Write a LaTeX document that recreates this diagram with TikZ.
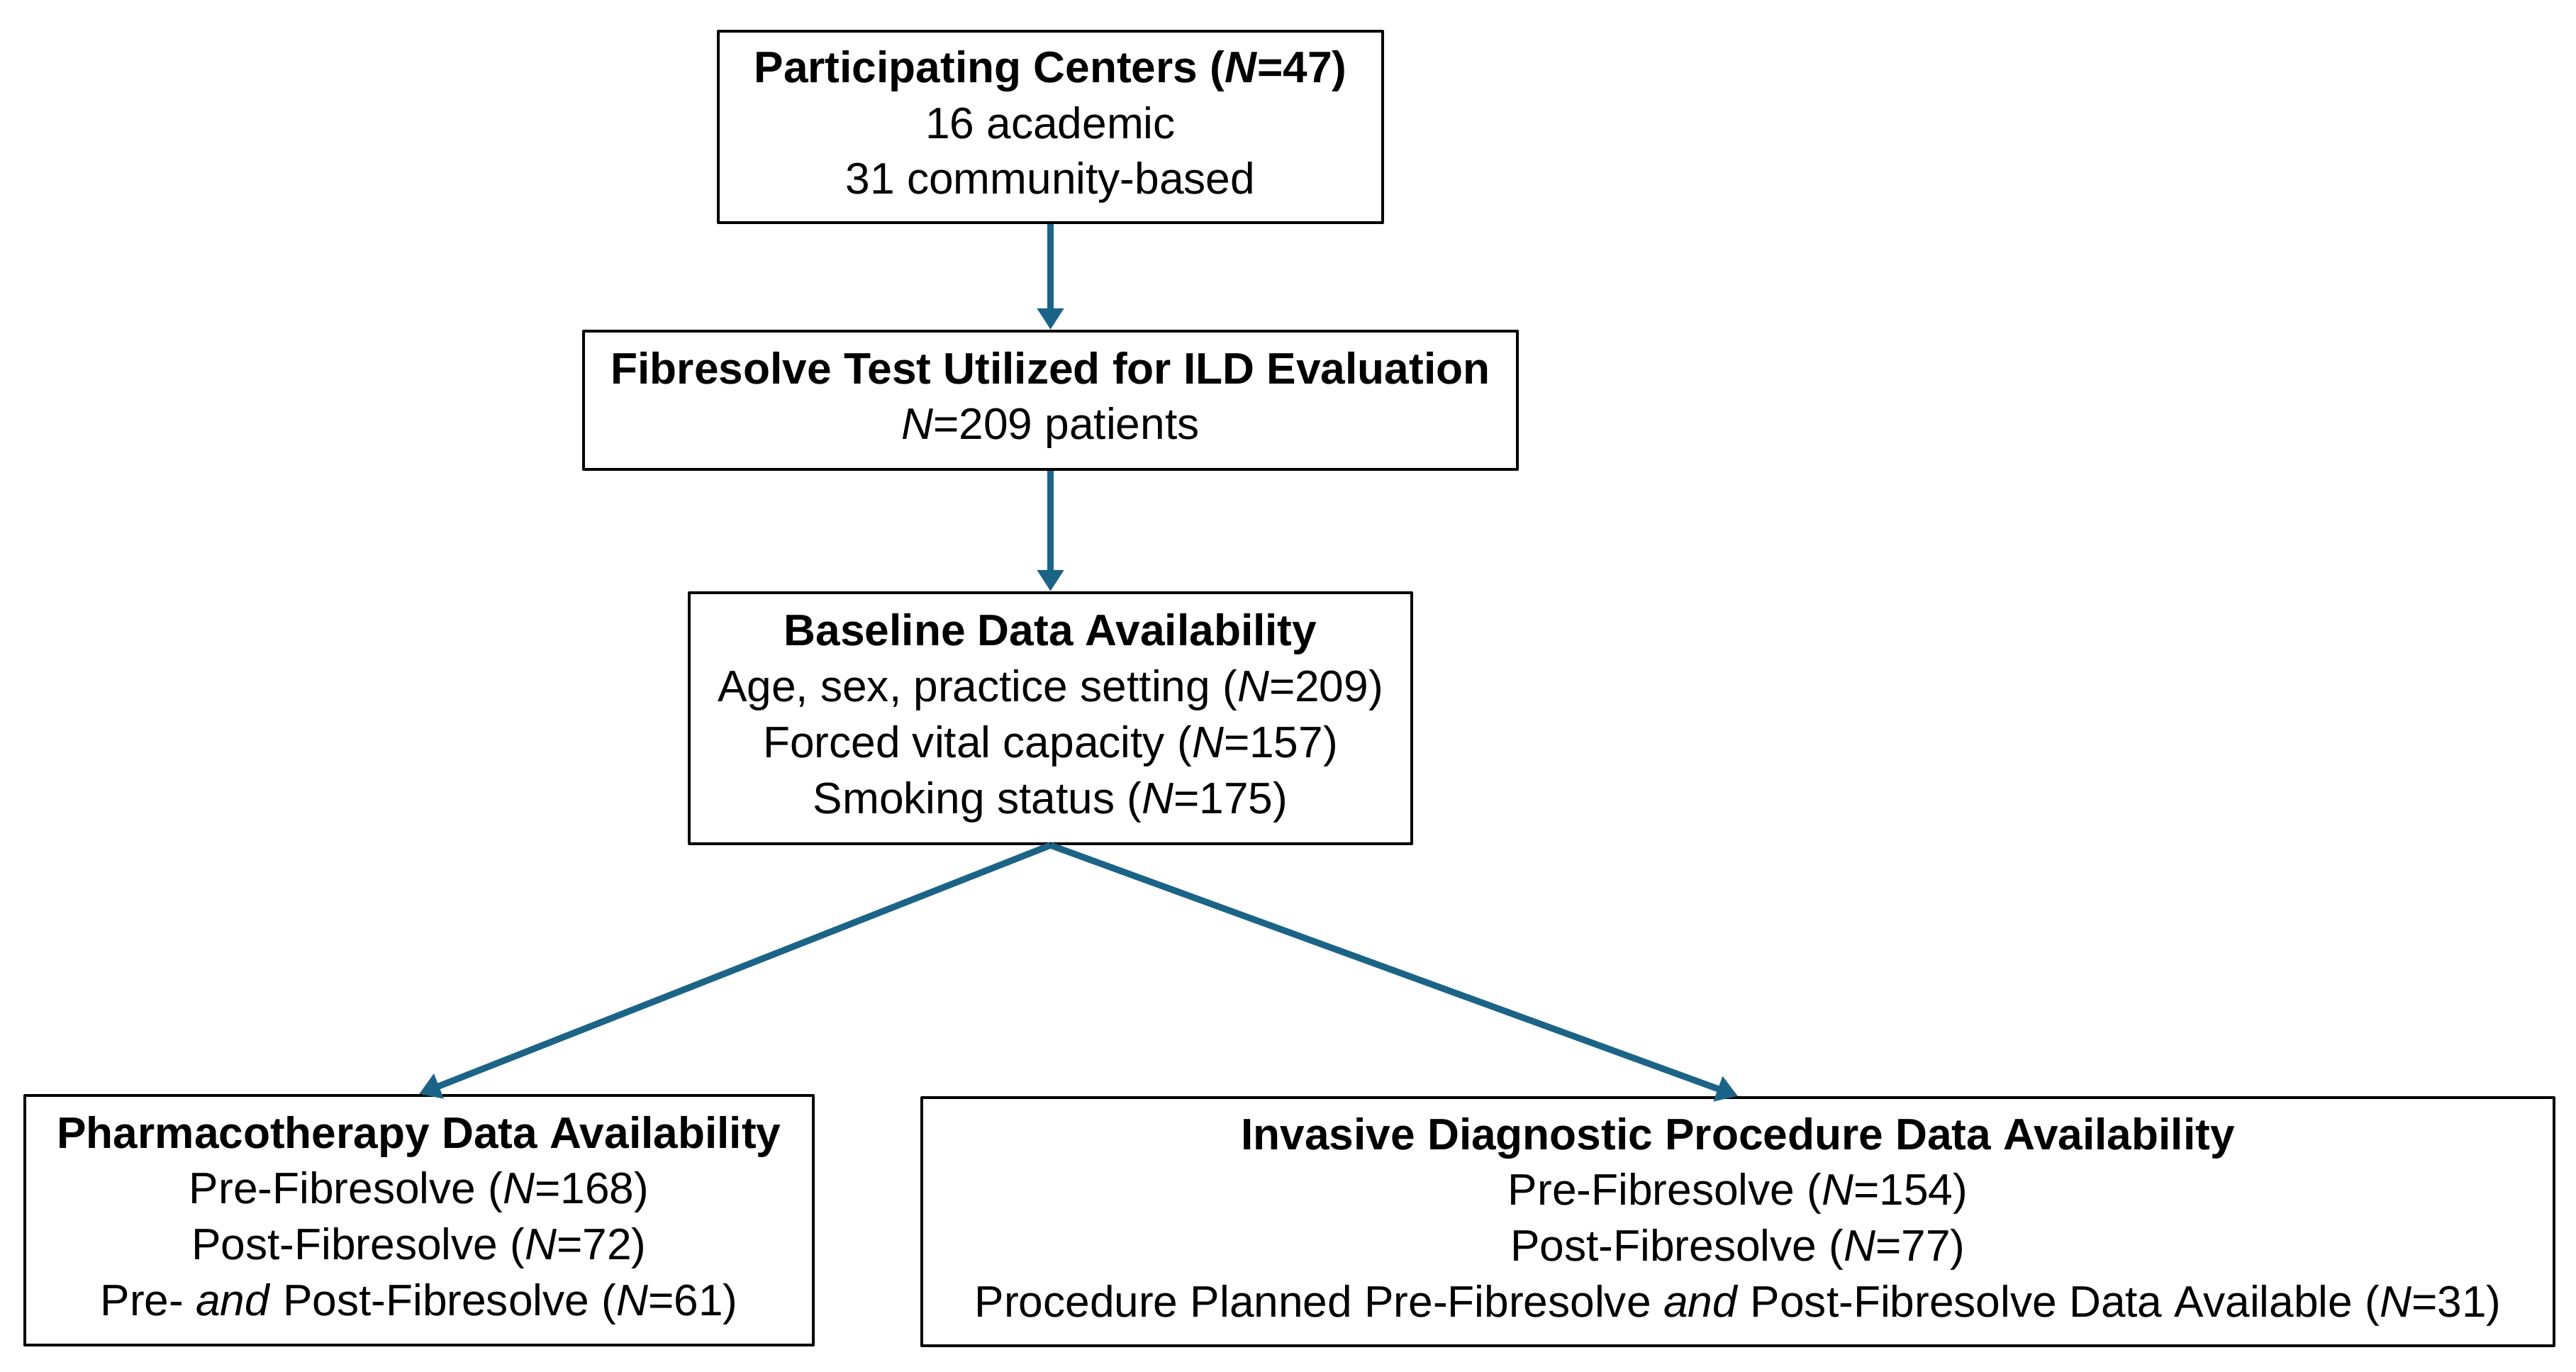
\documentclass[tikz,border=0pt]{standalone}
\usepackage{fontspec}
\setmainfont{Liberation Sans}
\usetikzlibrary{arrows.meta}
\definecolor{arrowblue}{HTML}{1C6487}
\begin{document}
\begin{tikzpicture}[font=\fontsize{17.7}{22.4}\selectfont, line join=round, >={Triangle[length=0.3cm,width=0.36cm]},
		box/.style={draw, line width=1.2pt, align=center, inner sep=0pt},
		flow/.style={->, draw=arrowblue, line width=2.6pt}]
			\useasboundingbox (0,0) rectangle (36.33,-19.35);
			\node[box, minimum width=9.37cm, minimum height=2.70cm] (centers) at (14.815,-1.79)
				{\textbf{Participating Centers (\textit{N}=47)}\\16 academic\\31 community-based};
			\node[box, minimum width=13.17cm, minimum height=1.95cm] (test) at (14.815,-5.645)
				{\textbf{Fibresolve Test Utilized for ILD Evaluation}\\\textit{N}=209 patients};
			\node[box, minimum width=10.19cm, minimum height=3.54cm] (baseline) at (14.815,-10.13)
				{\textbf{Baseline Data Availability}\\Age, sex, practice setting (\textit{N}=209)\\Forced vital capacity (\textit{N}=157)\\Smoking status (\textit{N}=175)};
			\node[box, minimum width=11.12cm, minimum height=3.52cm] (pharma) at (5.91,-17.21)
				{\textbf{Pharmacotherapy Data Availability}\\Pre-Fibresolve (\textit{N}=168)\\Post-Fibresolve (\textit{N}=72)\\Pre- \textit{and} Post-Fibresolve (\textit{N}=61)};
			\node[box, minimum width=23.02cm, minimum height=3.50cm] (invasive) at (24.51,-17.23)
				{\textbf{Invasive Diagnostic Procedure Data Availability}\\Pre-Fibresolve (\textit{N}=154)\\Post-Fibresolve (\textit{N}=77)\\Procedure Planned Pre-Fibresolve \textit{and} Post-Fibresolve Data Available (\textit{N}=31)};
			\draw[flow] (centers) -- (test);
			\draw[flow] (test) -- (baseline);
			\draw[flow] (baseline.south) -- (pharma.north);
			\draw[flow] (baseline.south) -- (invasive.north);
		\end{tikzpicture}
\end{document}
